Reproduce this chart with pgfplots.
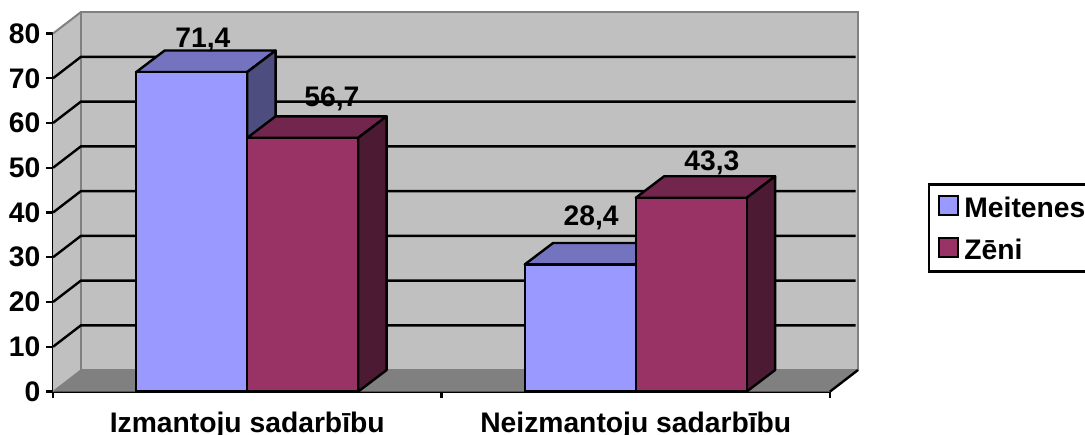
\documentclass[border=0pt]{standalone}
\usepackage{pgfplots}
\pgfplotsset{compat=1.18}
\usepackage{fontspec}
\setmainfont{Liberation Sans}
\definecolor{wall}{HTML}{C0C0C0}
\definecolor{edge}{HTML}{808080}
\definecolor{floorc}{HTML}{808080}
\definecolor{mfront}{HTML}{9999FF}
\definecolor{mtop}{HTML}{7373BF}
\definecolor{mside}{HTML}{4D4D80}
\definecolor{zfront}{HTML}{993366}
\definecolor{ztop}{HTML}{73264D}
\definecolor{zside}{HTML}{4D1A33}
\begin{document}
\begin{tikzpicture}
\useasboundingbox (0,0) rectangle (813.75pt,326.25pt);
\begin{axis}[
  at={(39.75pt,32.6pt)}, anchor=south west,
  scale only axis, width=582.75pt, height=268.5pt,
  xmin=0, xmax=2, ymin=0, ymax=80, clip=false,
  axis y line=left, axis x line=bottom,
  axis line style={-, black, line width=1.8pt},
  font=\fontsize{21.2}{24}\selectfont\bfseries,
  /pgf/number format/assume math mode=true,
  ytick={0,10,...,80},
  xtick={0,1,2}, xticklabels={,,},
  extra x ticks={0.5,1.5},
  extra x tick labels={Izmantoju sadarbību,Neizmantoju sadarbību},
  extra x tick style={tick style={draw=none}, major tick length=0pt,
    tick label style={anchor=base, yshift=-30.7pt}},
  tick style={black, line width=1.8pt},
  tick align=outside, major tick length=5pt,
  x tick style={black, line width=1.8pt},
  yticklabel style={xshift=-1pt},
  legend style={at={(1.1274,0.578)}, anchor=north west, draw=black, line width=1.8pt,
    inner xsep=6.5pt, inner ysep=7.5pt, outer sep=0pt, row sep=13pt, column sep=4pt,
    nodes={inner sep=0pt},
    font=\fontsize{21.2}{24}\selectfont\bfseries},
  legend cell align=left,
  legend image code/.code={\draw[#1,draw=black,line width=1.8pt] (0pt,-5pt) rectangle (14.25pt,9.25pt);},
]
% left wall, floor, back wall
\addplot[fill=wall, draw=none, forget plot] coordinates {(0,0)(0.072,4.8)(0.072,84.8)(0,80)} -- cycle;
\addplot[fill=floorc, draw=none, forget plot] coordinates {(0,0)(0.072,4.8)(2.072,4.8)(2,0)} -- cycle;
\addplot[fill=wall, draw=edge, line width=1.9pt, forget plot] coordinates {(0.072,4.8)(0.072,84.8)(2.072,84.8)(2.072,4.8)} -- cycle;
\addplot[draw=edge, line width=1.5pt, forget plot] coordinates {(0,80)(0.072,84.8)};
\addplot[draw=edge, line width=1pt, forget plot] coordinates {(0,0)(0.072,4.8)};
\addplot[draw=black, line width=1.8pt, forget plot] coordinates {(2,0)(2.072,4.8)};
% gridlines
\addplot[draw=black, line width=1.8pt, forget plot] coordinates {(0,10)(0.072,14.8)(2.066,14.8)};
\addplot[draw=black, line width=1.8pt, forget plot] coordinates {(0,20)(0.072,24.8)(2.066,24.8)};
\addplot[draw=black, line width=1.8pt, forget plot] coordinates {(0,30)(0.072,34.8)(2.066,34.8)};
\addplot[draw=black, line width=1.8pt, forget plot] coordinates {(0,40)(0.072,44.8)(2.066,44.8)};
\addplot[draw=black, line width=1.8pt, forget plot] coordinates {(0,50)(0.072,54.8)(2.066,54.8)};
\addplot[draw=black, line width=1.8pt, forget plot] coordinates {(0,60)(0.072,64.8)(2.066,64.8)};
\addplot[draw=black, line width=1.8pt, forget plot] coordinates {(0,70)(0.072,74.8)(2.066,74.8)};
% Meitenes, first group
\addplot[fill=mtop, draw=black, line width=1.8pt, line join=round, forget plot] coordinates {(0.2143,71.4)(0.2873,76.2)(0.573,76.2)(0.5,71.4)} -- cycle;
\addplot[fill=mside, draw=black, line width=1.8pt, line join=round, forget plot] coordinates {(0.5,0)(0.573,4.8)(0.573,76.2)(0.5,71.4)} -- cycle;
\addplot[ybar, bar width=0.2857, bar shift=-0.14285, fill=mfront, draw=black, line width=1.8pt, forget plot] coordinates {(0.5,71.4)};
% Zeni, first group
\addplot[fill=ztop, draw=black, line width=1.8pt, line join=round, forget plot] coordinates {(0.5,56.7)(0.573,61.5)(0.8587,61.5)(0.7857,56.7)} -- cycle;
\addplot[fill=zside, draw=black, line width=1.8pt, line join=round, forget plot] coordinates {(0.7857,0)(0.8587,4.8)(0.8587,61.5)(0.7857,56.7)} -- cycle;
\addplot[ybar, bar width=0.2857, bar shift=0.14285, fill=zfront, draw=black, line width=1.8pt, forget plot] coordinates {(0.5,56.7)};
% Meitenes, second group
\addplot[fill=mtop, draw=black, line width=1.8pt, line join=round, forget plot] coordinates {(1.2143,28.4)(1.2873,33.2)(1.573,33.2)(1.5,28.4)} -- cycle;
\addplot[fill=mside, draw=black, line width=1.8pt, line join=round, forget plot] coordinates {(1.5,0)(1.573,4.8)(1.573,33.2)(1.5,28.4)} -- cycle;
\addplot[ybar, bar width=0.2857, bar shift=-0.14285, fill=mfront, draw=black, line width=1.8pt, forget plot] coordinates {(1.5,28.4)};
% Zeni, second group
\addplot[fill=ztop, draw=black, line width=1.8pt, line join=round, forget plot] coordinates {(1.5,43.3)(1.573,48.1)(1.8587,48.1)(1.7857,43.3)} -- cycle;
\addplot[fill=zside, draw=black, line width=1.8pt, line join=round, forget plot] coordinates {(1.7857,0)(1.8587,4.8)(1.8587,48.1)(1.7857,43.3)} -- cycle;
\addplot[ybar, bar width=0.2857, bar shift=0.14285, fill=zfront, draw=black, line width=1.8pt, forget plot] coordinates {(1.5,43.3)};
% data labels
\node[anchor=base] at (axis cs:0.386,76.8) {71,4};
\node[anchor=base] at (axis cs:0.718,63.6) {56,7};
\node[anchor=base] at (axis cs:1.385,37.0) {28,4};
\node[anchor=base] at (axis cs:1.696,49.3) {43,3};
% legend
\addlegendimage{fill=mfront}
\addlegendentry{Meitenes\hspace{20pt}}
\addlegendimage{fill=zfront}
\addlegendentry{Zēni}
\end{axis}
\end{tikzpicture}
\end{document}
